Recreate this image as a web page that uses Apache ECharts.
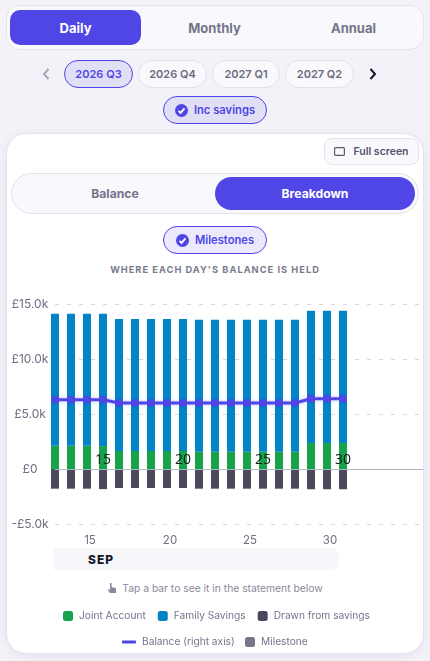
<!DOCTYPE html>
<html>
<head>
<meta charset="utf-8">
<style>
    html, body { margin: 0; padding: 0; width: 430px; height: 661px; overflow: hidden; background: #f3f2f8; }
    body { font-family: Inter, "Noto Sans", sans-serif; position: relative; }
    .box { position: absolute; box-sizing: border-box; display: flex; align-items: center; justify-content: center; white-space: nowrap; }
    .tabs { left: 6px; top: 5px; width: 418px; height: 45px; background: #f9f8fd; border: 1px solid #e4e3ec; border-radius: 14px; }
    .tab { font-size: 13px; font-weight: 700; color: #75758a; }
    .tab.sm { font-size: 12.2px; }
    .on { background: #4f46e5; color: #fff; }
    .pill { top: 60px; height: 28px; width: 69px; border-radius: 14px; background: #f9f8fd; border: 1px solid #e2e1ea; font-size: 11px; font-weight: 600; color: #6b6b80; }
    .pill.sel { background: #e0dff5; border-color: #4f46e5; color: #4f46e5; }
    .toggle { left: 163px; width: 104px; height: 28px; border-radius: 14px; border: 1px solid #4f46e5; font-size: 11.2px; font-weight: 600; color: #4f46e5; gap: 6px; }
    .card { left: 6px; top: 133px; width: 418px; height: 521px; background: #fff; border: 1px solid #e4e3ec; border-radius: 20px; box-shadow: 0 2px 8px rgba(60, 55, 110, 0.08); }
    .title { left: 6px; width: 418px; top: 262px; height: 14px; font-size: 9.3px; font-weight: 700; letter-spacing: 1px; color: #7b7b8e; }
    .band { left: 54px; top: 548px; width: 285px; height: 22px; background: #f7f6fb; border-radius: 0 8px 8px 0; justify-content: flex-start; }
    .hint { left: 6px; width: 418px; top: 581px; height: 14px; font-size: 10.3px; color: #8a8a9c; gap: 5px; }
    #chart { position: absolute; left: 0; top: 290px; width: 430px; height: 366px; }
</style>
</head>
<body>
<div class="box tabs"></div>
<div class="box tab on" style="left:10px;top:10px;width:131px;height:35px;border-radius:10px">Daily</div>
<div class="box tab" style="left:149px;top:10px;width:131px;height:35px">Monthly</div>
<div class="box tab" style="left:288px;top:10px;width:131px;height:35px">Annual</div>

<svg class="box" style="left:41px;top:67px" width="10" height="14" viewBox="0 0 10 14"><path d="M7.5 2 L3 7 L7.5 12" fill="none" stroke="#a3aab8" stroke-width="2"/></svg>
<div class="box pill sel" style="left:64px">2026 Q3</div>
<div class="box pill" style="left:138px">2026 Q4</div>
<div class="box pill" style="left:212px;width:68px">2027 Q1</div>
<div class="box pill" style="left:285px">2027 Q2</div>
<svg class="box" style="left:368px;top:67px" width="10" height="14" viewBox="0 0 10 14"><path d="M2.5 2 L7 7 L2.5 12" fill="none" stroke="#111827" stroke-width="2"/></svg>

<div class="box toggle" style="top:96px;background:#e0dff5">
    <svg width="13" height="13" viewBox="0 0 13 13"><circle cx="6.5" cy="6.5" r="6.5" fill="#4f46e5"/><path d="M3.5 6.8 L5.6 8.9 L9.5 4.4" fill="none" stroke="#fff" stroke-width="1.8"/></svg>
    <span>Inc savings</span>
</div>

<div class="box card"></div>
<div class="box" style="left:324px;top:138px;width:95px;height:27px;background:#f9f8fd;border:1px solid #e3e2ea;border-radius:8px;font-size:10.5px;font-weight:600;color:#55556a;gap:8px">
    <svg width="11" height="9" viewBox="0 0 11 9"><rect x="0.6" y="0.6" width="9.8" height="7.8" rx="1" fill="none" stroke="#5a5a6c" stroke-width="1.2"/></svg>
    <span>Full screen</span>
</div>

<div class="box" style="left:11px;top:173px;width:408px;height:41px;background:#f9f8fd;border:1px solid #e3e2ea;border-radius:21px"></div>
<div class="box tab sm" style="left:15px;top:177px;width:200px;height:33px">Balance</div>
<div class="box tab sm on" style="left:215px;top:177px;width:200px;height:33px;border-radius:17px">Breakdown</div>

<div class="box toggle" style="top:226px;background:#ebe9fb">
    <svg width="13" height="13" viewBox="0 0 13 13"><circle cx="6.5" cy="6.5" r="6.5" fill="#4f46e5"/><path d="M3.5 6.8 L5.6 8.9 L9.5 4.4" fill="none" stroke="#fff" stroke-width="1.8"/></svg>
    <span>Milestones</span>
</div>
<div class="box title">WHERE EACH DAY'S BALANCE IS HELD</div>

<div class="box band"><span style="margin-left:34px;font-size:12px;font-weight:800;letter-spacing:1px;color:#111827">SEP</span></div>

<div class="box hint">
    <svg width="10" height="12" viewBox="0 0 10 12"><path d="M3 1 h1.6 v4 l4.4 1.2 v4.8 h-6 l-2.5 -4 l2.5 0.8 z" fill="#8a8a9c"/></svg>
    <span>Tap a bar to see it in the statement below</span>
</div>

<div id="chart"></div>

<script src="https://cdn.jsdelivr.net/npm/echarts@6/dist/echarts.min.js"></script>
<script>
    // axis runs past the last day that has data
    var days = ['12', '13', '14', '15', '16', '17', '18', '19', '20', '21', '22', '23', '24', '25', '26', '27', '28', '29', '30', '31', '32', '33', '34', '35'];
    var labelDays = ['15', '20', '25', '30'];
    var jointAccount = [2120, 2120, 2120, 2080, 1640, 1640, 1640, 1640, 1640, 1570, 1570, 1570, 1570, 1570, 1570, 1570, 2360, 2360, 2360];
    var familySavings = [12000, 12000, 12000, 12040, 12000, 12000, 12000, 12000, 12000, 12000, 12000, 12000, 12000, 12000, 12000, 12000, 12030, 12030, 12030];
    var drawnFromSavings = [-1790, -1790, -1790, -1830, -1730, -1730, -1730, -1730, -1730, -1790, -1790, -1790, -1790, -1790, -1790, -1790, -1840, -1840, -1840];
    var balance = [6300, 6300, 6300, 6300, 6000, 6000, 6000, 6000, 6000, 6000, 6000, 6000, 6000, 6000, 6000, 6000, 6380, 6380, 6380];

    var fontName = 'Inter, "Noto Sans", sans-serif';

    function showDay(index, value) {
        return labelDays.indexOf(value) !== -1;
    }

    function barSeries(name, values, color) {
        return {
            name: name,
            type: 'bar',
            stack: 'held',
            barWidth: 8,
            itemStyle: { color: color },
            data: values
        };
    }

    function legendRow(left, top, names, w, h) {
        return {
            left: left,
            top: top,
            data: names,
            orient: 'horizontal',
            icon: 'roundRect',
            itemWidth: w,
            itemHeight: h,
            itemGap: 12,
            padding: 0,
            selectedMode: false,
            textStyle: { fontFamily: fontName, fontSize: 10.2, color: '#75758a', padding: [0, 0, 0, 1] }
        };
    }

    var chart = echarts.init(document.getElementById('chart'), null, { renderer: 'canvas' });
    chart.setOption({
        animation: false,
        backgroundColor: 'transparent',
        grid: [
            { left: 55, top: 14, width: 368, height: 220 },
            { left: 42, top: 14, width: 368, height: 220 }
        ],
        legend: [
            legendRow(63, 321, ['Joint Account', 'Family Savings', 'Drawn from savings'], 10, 10),
            legendRow(122, 347, ['Balance (right axis)'], 14, 3),
            legendRow(245, 347, ['Milestone'], 10, 10)
        ],
        xAxis: [{
            type: 'category',
            data: days,
            boundaryGap: false,
            z: 5,
            splitLine: { show: false },
            axisTick: { show: false },
            axisLine: { onZero: true, lineStyle: { color: '#b3b1c2', width: 1 } },
            axisLabel: {
                inside: true,
                margin: 57,
                interval: showDay,
                fontFamily: '"Open Sans", sans-serif',
                fontSize: 14,
                color: '#1a1a1a'
            }
        }, {
            type: 'category',
            data: days,
            boundaryGap: false,
            gridIndex: 1,
            position: 'bottom',
            splitLine: { show: false },
            axisTick: { show: false },
            axisLine: { show: false },
            axisLabel: {
                margin: 11,
                interval: showDay,
                fontFamily: fontName,
                fontSize: 11.5,
                color: '#6f6f84'
            }
        }],
        yAxis: [{
            type: 'value',
            min: -5000,
            max: 15000,
            interval: 5000,
            axisTick: { show: false },
            axisLine: { show: false },
            splitLine: { lineStyle: { color: '#d8d7df', width: 1, type: [4, 8] } },
            axisLabel: {
                align: 'center',
                margin: 25,
                fontFamily: fontName,
                fontSize: 12,
                color: '#6f6f84',
                formatter: function (v) {
                    if (v === 0) return '£0';
                    return (v < 0 ? '-' : '') + '£' + (Math.abs(v) / 1000).toFixed(1) + 'k';
                }
            }
        }, {
            type: 'value',
            gridIndex: 1,
            min: -5000,
            max: 15000,
            show: false
        }],
        series: [
            barSeries('Joint Account', jointAccount, '#16a34a'),
            barSeries('Family Savings', familySavings, '#0284c7'),
            barSeries('Drawn from savings', drawnFromSavings, '#4a4a5f'),
            {
                name: 'Balance (right axis)',
                type: 'line',
                z: 4,
                symbol: 'circle',
                symbolSize: 8,
                itemStyle: { color: '#4f46e5' },
                lineStyle: { color: '#4f46e5', width: 3, shadowColor: 'rgba(79,70,229,0.35)', shadowBlur: 4 },
                data: balance
            },
            {
                name: 'Milestone',
                type: 'scatter',
                itemStyle: { color: '#77778c', opacity: 1 },
                data: []
            }
        ]
    });
</script>
</body>
</html>
